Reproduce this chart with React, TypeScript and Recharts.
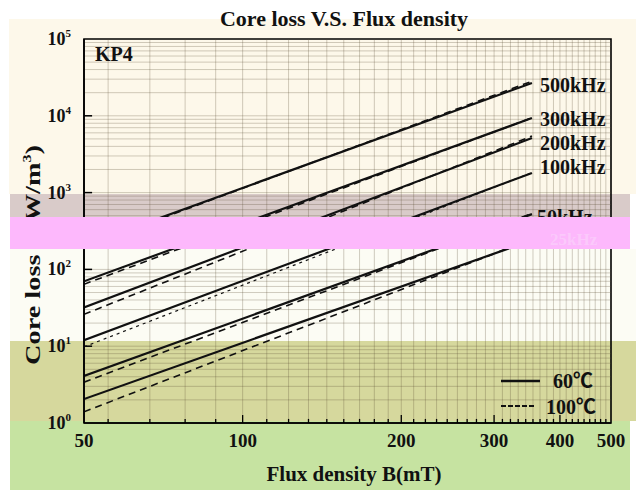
import React from 'react';
import { ComposedChart, Line, XAxis, YAxis, ReferenceLine, ReferenceArea } from 'recharts';

const FONT = '"Liberation Serif", "Times New Roman", serif';

// ---- data ----
const frequencies = ['500kHz', '300kHz', '200kHz', '100kHz', '50kHz', '25kHz'];
const fluxPoints = [50, 354]; // mT, start and end of every curve

const loss60_500 = [205, 26800];
const loss60_300 = [70, 9360];
const loss60_200 = [32, 5130];
const loss60_100 = [12, 1800];
const loss60_50 = [4.1, 525];
const loss60_25 = [2.05, 240];

const loss100_500 = [195, 28200];
const loss100_300 = [64, 9400];
const loss100_200 = [26, 5450];
const loss100_100 = [9.8, 1820];
const loss100_50 = [3.4, 535];
const loss100_25 = [1.4, 248];

const xTicks = [50, 100, 200, 300, 400, 500];
const yTicks = [1, 10, 100, 1000, 10000, 100000];

// grid positions
const xGrid = Array.from({ length: 40 }, (_, i) => ((i + 5) * 100) / 9);
const xMajor = [100, 200, 300, 400];
const yGrid: number[] = [];
[1, 10, 100, 1000, 10000].forEach((d) => {
  for (let k = 1; k <= 9; k++) if (!(d === 1 && k === 1)) yGrid.push(k * d);
});
const yDecades = [10, 100, 1000, 10000];

const toRows = (vals: number[]) => fluxPoints.map((b, i) => ({ b, v: vals[i] }));

const solidSeries = [loss60_500, loss60_300, loss60_200, loss60_100, loss60_50, loss60_25];
const dashedSeries = [loss100_500, loss100_300, loss100_200, loss100_100, loss100_50, loss100_25];

const GRID = 'rgba(90,75,50,0.28)';

const XTick = (props: any) => {
  const { x, y, payload } = props;
  return (
    <text x={x} y={y + 24} textAnchor="middle" fontFamily={FONT} fontWeight="bold" fontSize={19} fill="#111">
      {payload.value}
    </text>
  );
};

const YTick = (props: any) => {
  const { x, y, payload } = props;
  const exp = Math.round(Math.log10(payload.value));
  return (
    <text x={x - 13} y={y + 6} textAnchor="end" fontFamily={FONT} fontWeight="bold" fontSize={18} fill="#111">
      10
      <tspan dy={-8} fontSize={11}>
        {exp}
      </tspan>
    </text>
  );
};

const labelY = [92, 126, 150, 174, 224, 246];
const labelX = [540, 540, 540, 540, 537, 550];

export default function App() {
  return (
    <div
      style={{
        position: 'absolute',
        left: 0,
        top: 0,
        width: 636,
        height: 490,
        background: '#ffffff',
        overflow: 'hidden',
      }}
    >
      {/* background bands of the scanned sheet */}
      <div style={{ position: 'absolute', left: 9, top: 19, width: 627, height: 175, background: '#fdf8ea' }} />
      <div style={{ position: 'absolute', left: 10, top: 194, width: 620, height: 23, background: '#d9cbc9' }} />
      <div style={{ position: 'absolute', left: 10, top: 249, width: 626, height: 92, background: '#fcfcf4' }} />
      <div style={{ position: 'absolute', left: 10, top: 341, width: 626, height: 80, background: '#d6d89d' }} />
      <div style={{ position: 'absolute', left: 10, top: 421, width: 620, height: 69, background: '#c6e3a1' }} />

      <div style={{ position: 'absolute', left: 0, top: 0 }}>
        <ComposedChart width={636} height={490} margin={{ top: 39, right: 25, bottom: 0, left: 0 }}>
          <XAxis
            dataKey="b"
            type="number"
            scale="log"
            domain={[50, 500]}
            ticks={xTicks}
            interval={0}
            allowDataOverflow
            height={67}
            tickSize={0}
            tickMargin={0}
            tickLine={false}
            axisLine={{ stroke: '#000', strokeWidth: 1.6 }}
            tick={<XTick />}
          />
          <YAxis
            type="number"
            scale="log"
            domain={[1, 100000]}
            ticks={yTicks}
            interval={0}
            allowDataOverflow
            width={84}
            tickSize={0}
            tickMargin={0}
            tickLine={false}
            axisLine={{ stroke: '#000', strokeWidth: 1.6 }}
            tick={<YTick />}
          />
          {xGrid.map((v) => (
            <ReferenceLine key={'vx' + v} x={v} stroke={GRID} strokeWidth={1} />
          ))}
          {yGrid.map((v) => (
            <ReferenceLine key={'hy' + v} y={v} stroke={GRID} strokeWidth={1} />
          ))}
          {xGrid.map((v) => {
            const major = xMajor.some((m) => Math.abs(m - v) < 0.01);
            return (
              <ReferenceLine
                key={'tx' + v}
                segment={[
                  { x: v, y: 1 },
                  { x: v, y: major ? 1.27 : 1.13 },
                ]}
                stroke="#000"
                strokeWidth={1.3}
              />
            );
          })}
          {yDecades.map((v) => (
            <ReferenceLine
              key={'ty' + v}
              segment={[
                { x: 50, y: v },
                { x: 51.8, y: v },
              ]}
              stroke="#000"
              strokeWidth={1.5}
            />
          ))}
          <ReferenceArea x1={50} x2={500} y1={1} y2={100000} fill="none" stroke="#000" strokeWidth={1.6} />
          {dashedSeries.map((s, i) => (
            <Line
              key={'d' + i}
              name={frequencies[i] + ' 100℃'}
              data={toRows(s)}
              dataKey="v"
              type="linear"
              stroke="#111"
              strokeWidth={i === 3 ? 1.2 : 1.6}
              strokeDasharray={i === 3 ? '3 4' : '7 5'}
              dot={false}
              isAnimationActive={false}
            />
          ))}
          {solidSeries.map((s, i) => (
            <Line
              key={'s' + i}
              name={frequencies[i] + ' 60℃'}
              data={toRows(s)}
              dataKey="v"
              type="linear"
              stroke="#111"
              strokeWidth={2.2}
              dot={false}
              isAnimationActive={false}
            />
          ))}
        </ComposedChart>
      </div>

      <svg style={{ position: 'absolute', left: 0, top: 0 }} width={636} height={490}>
        <text x={344} y={26} textAnchor="middle" fontFamily={FONT} fontWeight="bold" fontSize={22} fill="#111">
          Core loss V.S. Flux density
        </text>
        <text x={95} y={61} fontFamily={FONT} fontWeight="bold" fontSize={20} fill="#111">
          KP4
        </text>
        {frequencies.slice(0, 5).map((f, i) => (
          <text key={f} x={labelX[i]} y={labelY[i]} fontFamily={FONT} fontWeight="bold" fontSize={20} fill="#111">
            {f}
          </text>
        ))}
        <text
          transform="translate(40,255) rotate(-90)"
          textAnchor="middle"
          fontFamily={FONT}
          fontWeight="bold"
          fontSize={21}
          fill="#111"
          textLength={220}
          lengthAdjust="spacingAndGlyphs"
        >
          Core loss (kW/m
          <tspan dy={-9} fontSize={12}>
            3
          </tspan>
          <tspan dy={9}>)</tspan>
        </text>
        <text x={354} y={481} textAnchor="middle" fontFamily={FONT} fontWeight="bold" fontSize={21} fill="#111">
          Flux density B(mT)
        </text>
        {/* legend */}
        <line x1={501} y1={381} x2={540} y2={381} stroke="#111" strokeWidth={2.5} />
        <text x={553} y={388} fontFamily={FONT + ', "Noto Sans CJK SC"'} fontWeight="bold" fontSize={20} fill="#111">
          60℃
        </text>
        <line x1={501} y1={406} x2={534} y2={406} stroke="#111" strokeWidth={1.8} strokeDasharray="5 2" />
        <text x={546} y={414} fontFamily={FONT + ', "Noto Sans CJK SC"'} fontWeight="bold" fontSize={20} fill="#111">
          100℃
        </text>
      </svg>

      {/* opaque pink strip of the scan, covering part of the chart */}
      <div style={{ position: 'absolute', left: 10, top: 217, width: 620, height: 32, background: '#fdb8fc' }}>
        <svg width={620} height={32} style={{ position: 'absolute', left: 0, top: 0 }}>
          <text x={540} y={28} fontFamily={FONT} fontWeight="bold" fontSize={17} fill="#fbc9fb">
            {frequencies[5]}
          </text>
        </svg>
      </div>
    </div>
  );
}
